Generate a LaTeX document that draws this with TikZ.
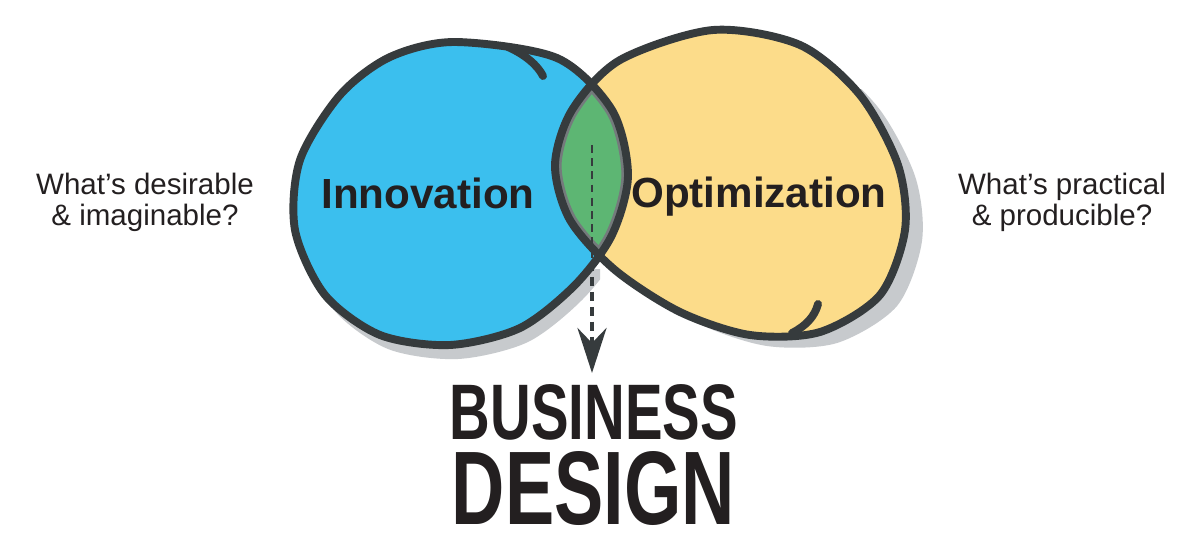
\documentclass[tikz,border=0pt]{standalone}
\usepackage{fontspec}
\setmainfont{Liberation Sans}
\usepackage{graphicx}
\usetikzlibrary{arrows.meta}

\definecolor{innoblue}{HTML}{3BBFEE}
\definecolor{optiyellow}{HTML}{FCDC8A}
\definecolor{lensgreen}{HTML}{5DB673}
\definecolor{rimdark}{HTML}{363B3D}
\definecolor{rimgray}{HTML}{747A7C}
\definecolor{shadowgray}{HTML}{C7CACD}
\definecolor{inkblack}{HTML}{231F20}

% the two hand drawn blobs
\def\blobinno{plot[smooth cycle] coordinates {(455,42) (557,58) (612,110) (628,175) (612,235) (575,285) (520,328) (450,345) (380,335) (325,295) (295,230) (300,160) (340,95) (390,57)}}
\def\blobopti{plot[smooth cycle] coordinates {(713,30) (800,45) (860,95) (898,165) (905,230) (880,295) (820,332) (750,335) (680,312) (615,270) (570,220) (555,165) (572,110) (620,60)}}

\begin{document}
\begin{tikzpicture}[x=0.02cm, y=-0.02cm,
    rim/.style={draw=rimdark, line width=4.5pt, line join=round},
    curl/.style={draw=rimdark, line width=4.5pt, line cap=round},
    shade/.style={fill=shadowgray},
    bigword/.style={font=\bfseries\fontsize{24}{28}\selectfont, text=inkblack, inner sep=0pt},
    sidetext/.style={font=\fontsize{16.8}{17.6}\selectfont, text=inkblack, align=center, inner sep=0pt},
    thindash/.style={draw=rimdark, line width=1pt, dash pattern=on 4.5pt off 3pt},
    thickdash/.style={draw=rimdark, line width=2.5pt, dash pattern=on 5pt off 3.5pt}]

\useasboundingbox[fill=white] (0,0) rectangle (1200,557);

% shadows
\begin{scope}
  \clip (250,270) rectangle (600,420);
  \fill[shade, shift={(8,14)}] \blobinno;
\end{scope}
\begin{scope}
  \clip (680,90) rectangle (980,420);
  \fill[shade, shift={(17,11)}] \blobopti;
\end{scope}

% fills
\fill[innoblue] \blobinno;
\fill[optiyellow] \blobopti;
\begin{scope}
  \clip \blobinno;
  \fill[lensgreen] \blobopti;
\end{scope}
\begin{scope}
  \clip \blobinno;
  \clip \blobopti;
  \draw[draw=rimgray, line width=7.5pt] \blobinno;
  \draw[draw=rimgray, line width=7.5pt] \blobopti;
\end{scope}

% outlines
\draw[rim] \blobinno;
\draw[rim] \blobopti;
\draw[curl] (508,47) .. controls (526,55) and (538,66) .. (543,76);
\draw[curl] (792,333) .. controls (806,326) and (815,316) .. (818,304);

% labels
\node[bigword] (inno) at (428,193) {Innovation};
\node[bigword] (opti) at (759,197) {Optimization};
\node[sidetext] (desire) at (145,202) {What’s desirable\\\& imaginable?};
\node[sidetext] (practic) at (1062,202) {What’s practical\\\& producible?};
\node[inner sep=0pt, text=inkblack] (bd) at (594,412.5) {\resizebox{5.76cm}{1.1cm}{\bfseries BUSINESS}};
\node[inner sep=0pt, text=inkblack] (dsg) at (593.5,488.5) {\resizebox{5.66cm}{1.46cm}{\bfseries DESIGN}};

% arrow out of the lens
\coordinate (lenstop) at (592,145);
\coordinate (lensbot) at (592,262);
\coordinate (tip) at (592,373);
\draw[thindash] (lenstop) -- (lensbot);
\draw[thickdash, -{Stealth[length=0.9cm, width=0.58cm, inset=0.3cm]}] (lensbot) -- (tip);

\end{tikzpicture}
\end{document}
